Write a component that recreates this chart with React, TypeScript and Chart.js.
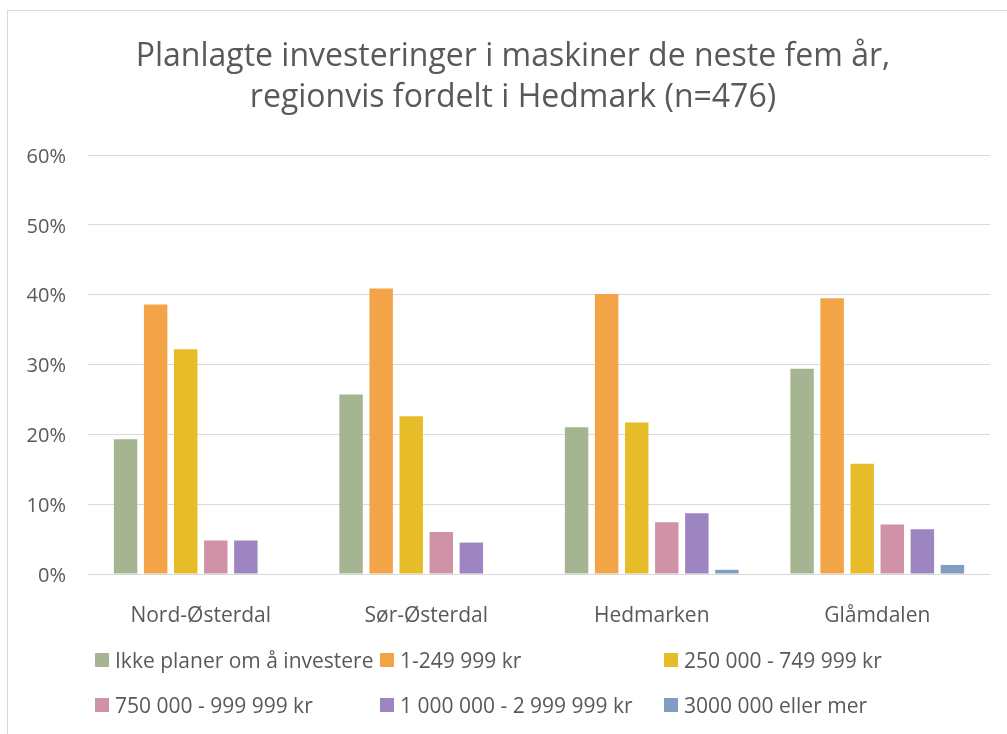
import React, { useEffect, useRef } from "react";
import { Chart, registerables } from "chart.js";

Chart.register(...registerables);

const categories = ["Nord-Østerdal", "Sør-Østerdal", "Hedmarken", "Glåmdalen"];
const seriesNames = [
  "Ikke planer om å investere",
  "1-249 999 kr",
  "250 000 - 749 999 kr",
  "750 000 - 999 999 kr",
  "1 000 000 - 2 999 999 kr",
  "3000 000 eller mer",
];
const seriesColors = ["#A5B592", "#F3A447", "#E7BC29", "#D092A7", "#9C85C0", "#809EC2"];
const ikkePlaner = [19.3, 25.7, 21.0, 29.4];
const kr1to249k = [38.6, 40.9, 40.1, 39.5];
const kr250to749k = [32.2, 22.6, 21.7, 15.8];
const kr750to999k = [4.8, 6.0, 7.4, 7.1];
const kr1to3m = [4.8, 4.5, 8.7, 6.4];
const kr3mPlus = [0, 0, 0.6, 1.3];
const seriesValues = [ikkePlaner, kr1to249k, kr250to749k, kr750to999k, kr1to3m, kr3mPlus];
const titleLines = ["Planlagte investeringer i maskiner de neste fem år,", "regionvis fordelt i Hedmark (n=476)"];

const FONT = "'Open Sans', sans-serif";
const TEXT = "#595959";

// legend grid positions (columns/rows)
const legendCols = [95, 380, 664];
const legendRows = [660, 705];

const titlePlugin = {
  id: "centeredTitle",
  afterDraw(chart: any) {
    const ctx = chart.ctx;
    ctx.save();
    ctx.font = `32px ${FONT}`;
    ctx.fillStyle = TEXT;
    ctx.textAlign = "center";
    ctx.textBaseline = "alphabetic";
    titleLines.forEach((line, i) => ctx.fillText(line, 513, 66 + i * 41));
    ctx.restore();
  },
};

export default function App() {
  const ref = useRef<HTMLCanvasElement | null>(null);
  useEffect(() => {
    if (!ref.current) return;
    const chart = new Chart(ref.current, {
      type: "bar",
      data: {
        labels: categories,
        datasets: seriesNames.map((name, i) => ({
          label: name,
          data: seriesValues[i],
          backgroundColor: seriesColors[i],
          borderWidth: 0,
          barPercentage: 0.78,
          categoryPercentage: 0.8,
        })),
      },
      plugins: [titlePlugin],
      options: {
        animation: false,
        responsive: false,
        maintainAspectRatio: false,
        layout: { padding: { left: 0, right: 17, top: 155, bottom: 100 } },
        plugins: {
          legend: { display: false },
          tooltip: { enabled: false },
          title: { display: false },
        },
        scales: {
          x: {
            grid: { display: false },
            border: { display: false },
            ticks: { color: TEXT, font: { family: FONT, size: 21 }, padding: 21 },
            afterFit: (s: any) => { s.height = 60; },
          },
          y: {
            min: 0,
            max: 60,
            ticks: {
              stepSize: 10,
              color: TEXT,
              font: { family: FONT, size: 20 },
              padding: 22,
              labelOffset: 2,
              callback: (v: any) => v + "%",
            },
            grid: { color: "#D9D9D9", lineWidth: 1, drawTicks: false },
            border: { display: false },
            afterFit: (s: any) => { s.width = 88; },
          },
        },
      },
    });
    return () => chart.destroy();
  }, []);

  return (
    <div style={{ position: "fixed", left: 0, top: 0, width: 1007, height: 734, background: "#fff", overflow: "hidden" }}>
      <div style={{ position: "absolute", left: 7, top: 10, width: 1020, height: 760, border: "1px solid #D9D9D9", boxSizing: "border-box" }} />
      <canvas ref={ref} width={1007} height={734} style={{ position: "absolute", left: 0, top: 0 }} />
      {seriesNames.map((name, i) => {
        const col = legendCols[i % 3];
        const row = legendRows[Math.floor(i / 3)];
        return (
          <div key={name} style={{ position: "absolute", left: col, top: row - 15, height: 30, display: "flex", alignItems: "center", fontFamily: FONT, fontSize: 21, color: TEXT, whiteSpace: "nowrap" }}>
            <span style={{ display: "inline-block", width: 14, height: 14, background: seriesColors[i], marginRight: 6 }} />
            <span>{name}</span>
          </div>
        );
      })}
    </div>
  );
}
